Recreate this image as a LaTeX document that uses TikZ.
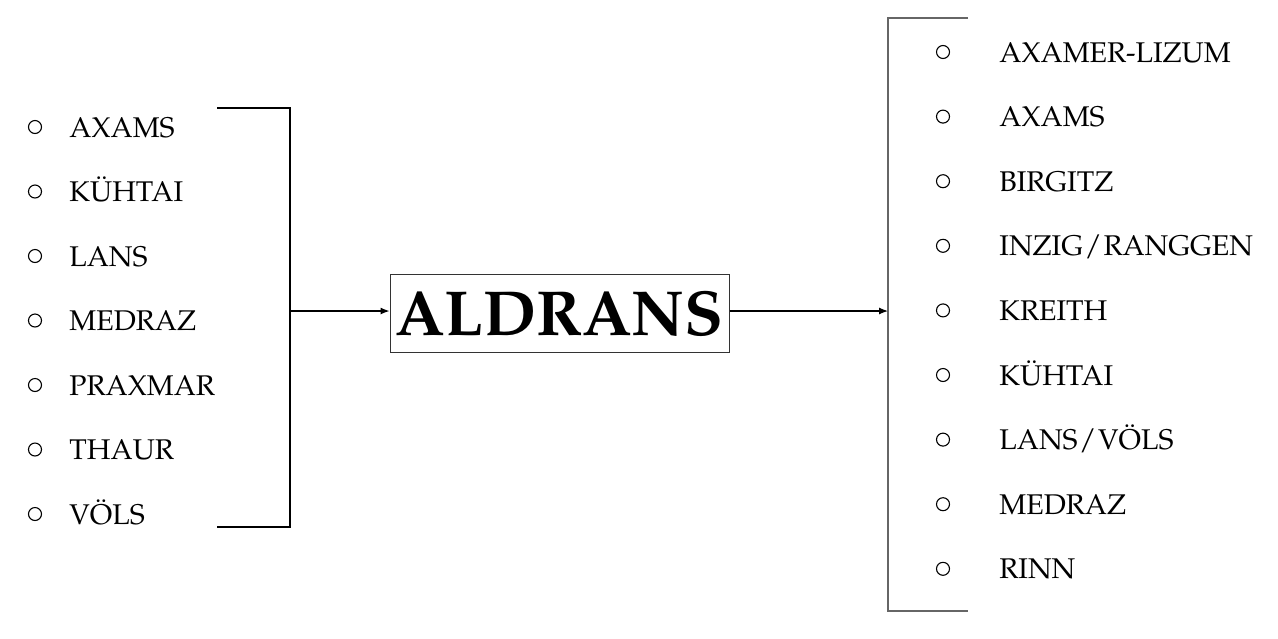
\documentclass[tikz,border=0pt]{standalone}
\IfFileExists{mathpazo.sty}{\usepackage[T1]{fontenc}\usepackage{mathpazo}}{\usepackage{fontspec}\setmainfont{Liberation Serif}}
\usetikzlibrary{arrows.meta}
\begin{document}
\begin{tikzpicture}[x=0.5pt,y=-0.5pt,
  item/.style={anchor=base west,inner sep=0pt,font=\fontsize{14.25}{17}\selectfont},
  bul/.style={draw,circle,minimum size=6.5pt,inner sep=0pt,line width=0.55pt},
  brk/.style={line width=0.7pt},
  arr/.style={line width=0.6pt,-{Latex[length=4.5pt,width=3.5pt]}},
  mainbox/.style={draw,line width=0.5pt,black!80,text=black,minimum width=169.5pt,minimum height=39pt,inner sep=0pt,
    text height=22pt,text depth=0pt,font=\fontsize{31.8}{36}\selectfont\bfseries}]
\useasboundingbox (0,0) rectangle (1278,638);
% central box
\node[mainbox] (box) at (559.5,313) {ALDRANS};
% left bracket
\coordinate (lt0) at (217,108);
\coordinate (lt1) at (290,108);
\coordinate (lb1) at (290,527);
\coordinate (lb0) at (217,527);
\coordinate (lm) at (290,311);
\draw[brk] (lt0) -- (lt1) -- (lb1) -- (lb0);
\draw[arr] (lm) -- (lm -| box.west);
% right bracket
\coordinate (rt0) at (968,18);
\coordinate (rt1) at (888,18);
\coordinate (rb1) at (888,611);
\coordinate (rb0) at (968,611);
\coordinate (rm) at (888,311);
\draw[brk,black!60] (rt0) -- (rt1) -- (rb1) -- (rb0);
\draw[arr] (box.east |- rm) -- (rm);
% left list
\foreach \t [count=\i] in {AXAMS,KÜHTAI,LANS,MEDRAZ,PRAXMAR,THAUR,VÖLS}{
  \pgfmathsetmacro{\yy}{127+64.5*(\i-1)}
  \node[bul] (lc\i) at (35,\yy) {};
  \node[item] (lt\i) at (69,\yy+10) {\t};
}
% right list
\foreach \t [count=\i] in {AXAMER-LIZUM,AXAMS,BIRGITZ,INZIG\kern0.8pt/\kern0.8pt RANGGEN,KREITH,KÜHTAI,LANS\kern0.8pt/\kern0.8pt VÖLS,MEDRAZ,RINN}{
  \pgfmathsetmacro{\yy}{52+64.6*(\i-1)}
  \node[bul] (rc\i) at (943,\yy) {};
  \node[item] (rt\i) at (999,\yy+10) {\t};
}
\end{tikzpicture}
\end{document}
